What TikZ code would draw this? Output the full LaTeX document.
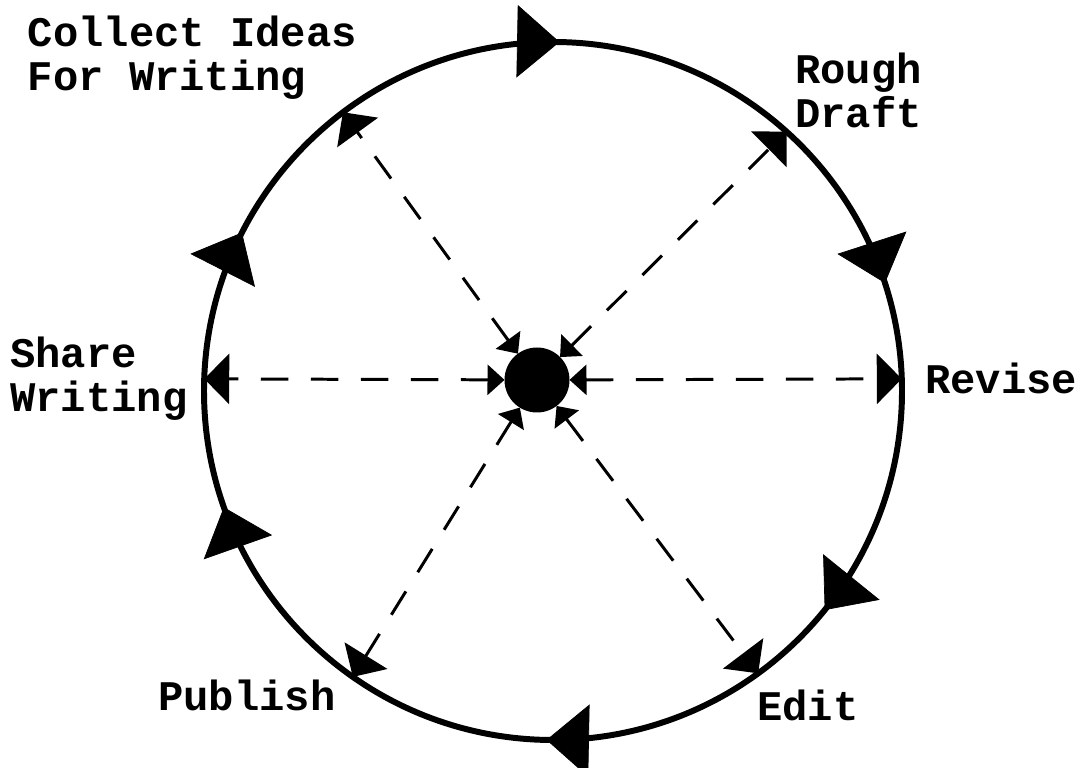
\documentclass[tikz,border=0pt]{standalone}
\usepackage{fontspec}
\usepackage{tikz}
\usetikzlibrary{arrows.meta,positioning,decorations.markings}
\newfontfamily\cyclefont{Liberation Mono}

\begin{document}
\begin{tikzpicture}[
    ring/.style={circle, draw, line width=3.4pt, minimum size=13.96cm, inner sep=0pt, outer sep=0pt},
    hub/.style={circle, fill=black, minimum size=1.3cm, inner sep=0pt, outer sep=0pt},
    spoke/.style={line width=1.7pt, dash pattern=on 0.55cm off 0.45cm,
        {Triangle[length=0.34cm, width=0.6cm]}-{Triangle[length=0.5cm, width=1cm]}},
    stage/.style={font=\cyclefont\bfseries\fontsize{24}{25}\selectfont, inner sep=0pt, align=left, anchor=west},
    turn/.style={decoration={markings,
        mark=at position 0.075 with {\arrow{Triangle[length=0.85cm, width=1.45cm]}},
        mark=at position 0.253 with {\arrow{Triangle[length=0.85cm, width=1.45cm]}},
        mark=at position 0.450 with {\arrow{Triangle[length=0.85cm, width=1.45cm]}},
        mark=at position 0.608 with {\arrow{Triangle[length=0.85cm, width=1.45cm]}},
        mark=at position 0.753 with {\arrow{Triangle[length=0.85cm, width=1.45cm]}},
        mark=at position 0.946 with {\arrow{Triangle[length=0.85cm, width=1.45cm]}}},
        postaction={decorate}}
]
\useasboundingbox (0,0) rectangle (21.68,15.36);

% --- The cycle and its hub ---
\node[ring] (ring) at (11.06, 7.54) {};
\node[hub]  (hub)  at (10.74, 7.76) {};

% clockwise arrows on the cycle
\path[turn] (ring.180) arc[start angle=180, end angle=-180, radius=6.98cm];

% --- Stages of writing ---
\node[stage] (collect) at (0.55, 14.2)  {Collect Ideas\\For Writing};
\node[stage] (rough)   at (15.9, 13.55) {Rough\\Draft};
\node[stage] (revise)  at (18.5, 7.8)   {Revise};
\node[stage] (edit)    at (15.14, 1.26) {Edit};
\node[stage] (publish) at (3.16, 1.46)  {Publish};
\node[stage] (share)   at (0.2, 7.79)   {Share\\Writing};

% === Spokes from the hub (dashed, both ways) ===
\draw[spoke] (hub) -- (ring.2);
\draw[spoke] (hub) -- (ring.178);
\draw[spoke] (hub) -- (ring.48);
\draw[spoke] (hub) -- (ring.127);
\draw[spoke] (hub) -- (ring.235);
\draw[spoke] (hub) -- (ring.-54);
\end{tikzpicture}
\end{document}
